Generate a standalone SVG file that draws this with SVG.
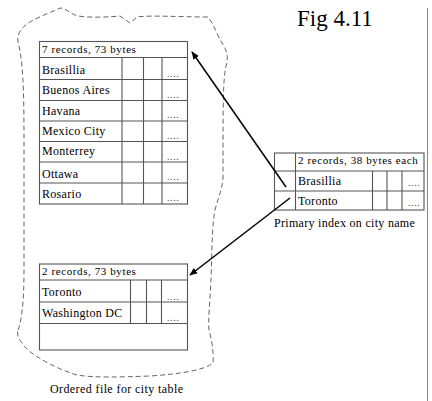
<svg xmlns="http://www.w3.org/2000/svg" width="432" height="401" viewBox="0 0 432 401" font-family="'Liberation Serif', 'Times New Roman', serif">
<style>
.tb{fill:none;stroke:#555;stroke-width:1.1}
.ln{stroke:#555;stroke-width:1.1}
.t{font-size:12px;letter-spacing:0.3px;fill:#000}
.h{font-size:11px;letter-spacing:0.6px;fill:#000}
.d{font-size:10px;letter-spacing:0.6px;fill:#444}
.cap{font-size:12px;letter-spacing:0.4px;fill:#000}
.blob{fill:none;stroke:#666;stroke-width:1;stroke-dasharray:5,3}
.arr{fill:none;stroke:#000;stroke-width:1.5}
</style>
<defs>
<marker id="ah" viewBox="0 0 10 10" refX="9" refY="5" markerWidth="8" markerHeight="8" markerUnits="userSpaceOnUse" orient="auto">
<path d="M0,1 L10,5 L0,9 Z" fill="#000"/>
</marker>
</defs>
<rect width="432" height="401" fill="#fff"/>
<text x="297" y="26" font-size="23" fill="#000">Fig 4.11</text>
<line x1="427.5" y1="8" x2="427.5" y2="401" stroke="#888" stroke-width="1"/>

<g id="file-outline">
<path class="blob" d="M18,330 C22,320 24,300 24,270 L24,140 C24,90 23,60 18,42 C17,35 20,28 30,22 C40,16 52,12 60,8 C66,8 70,14 78,16 C90,18 110,17 120,16 L130,23 L137,17 C150,15 180,17 208,17 C214,24 218,38 224,46 C228,54 228,60 226,66 C223,80 223,100 223,178 C222,190 218,198 215,210 C212,225 212,250 211,280 C210,300 208,320 209,330 C212,340 214,355 213,363 C205,370 180,374 150,376 C120,377 95,378 77,375 C60,370 40,360 28,350 C20,342 16,335 18,330 Z"/>
<text class="cap" x="50" y="393">Ordered file for city table</text>
</g>

<g id="block1">
<rect class="tb" x="39.5" y="41.5" width="148" height="162.5"/>
<line class="ln" x1="39.5" y1="57.5" x2="187.5" y2="57.5"/>
<line class="ln" x1="39.5" y1="79.5" x2="187.5" y2="79.5"/>
<line class="ln" x1="39.5" y1="100.5" x2="187.5" y2="100.5"/>
<line class="ln" x1="39.5" y1="121" x2="187.5" y2="121"/>
<line class="ln" x1="39.5" y1="141.5" x2="187.5" y2="141.5"/>
<line class="ln" x1="39.5" y1="162" x2="187.5" y2="162"/>
<line class="ln" x1="39.5" y1="183" x2="187.5" y2="183"/>
<line class="ln" x1="122" y1="57.5" x2="122" y2="204"/>
<line class="ln" x1="143.5" y1="57.5" x2="143.5" y2="204"/>
<line class="ln" x1="162" y1="57.5" x2="162" y2="204"/>
<text class="h" x="42" y="53">7 records, 73 bytes</text>
<text class="t" x="42" y="74">Brasillia</text>
<text class="t" x="42" y="94">Buenos Aires</text>
<text class="t" x="42" y="115">Havana</text>
<text class="t" x="42" y="135">Mexico City</text>
<text class="t" x="42" y="155">Monterrey</text>
<text class="t" x="42" y="178">Ottawa</text>
<text class="t" x="42" y="198">Rosario</text>
<text class="d" x="167" y="77">....</text>
<text class="d" x="167" y="98">....</text>
<text class="d" x="167" y="118">....</text>
<text class="d" x="167" y="139">....</text>
<text class="d" x="167" y="160">....</text>
<text class="d" x="167" y="180">....</text>
<text class="d" x="167" y="201">....</text>
</g>

<g id="block2">
<rect class="tb" x="39.5" y="264" width="148" height="86"/>
<line class="ln" x1="39.5" y1="280" x2="187.5" y2="280"/>
<line class="ln" x1="39.5" y1="302" x2="187.5" y2="302"/>
<line class="ln" x1="39.5" y1="323.5" x2="187.5" y2="323.5"/>
<line class="ln" x1="130.5" y1="280" x2="130.5" y2="323.5"/>
<line class="ln" x1="146.5" y1="280" x2="146.5" y2="323.5"/>
<line class="ln" x1="161.5" y1="280" x2="161.5" y2="323.5"/>
<text class="h" x="42" y="275">2 records, 73 bytes</text>
<text class="t" x="42" y="296">Toronto</text>
<text class="t" x="42" y="317">Washington DC</text>
<text class="d" x="167" y="300">....</text>
<text class="d" x="167" y="321">....</text>
</g>

<g id="index">
<rect class="tb" x="274.5" y="153" width="149.5" height="57"/>
<line class="ln" x1="274.5" y1="171" x2="424" y2="171"/>
<line class="ln" x1="274.5" y1="191" x2="424" y2="191"/>
<line class="ln" x1="295.5" y1="153" x2="295.5" y2="210"/>
<line class="ln" x1="372.5" y1="171" x2="372.5" y2="210"/>
<line class="ln" x1="387" y1="171" x2="387" y2="210"/>
<line class="ln" x1="402" y1="171" x2="402" y2="210"/>
<text class="h" x="298" y="164">2 records, 38 bytes each</text>
<text class="t" x="298" y="185">Brasillia</text>
<text class="t" x="298" y="205">Toronto</text>
<text class="d" x="408" y="186">....</text>
<text class="d" x="408" y="206">....</text>
<text class="cap" x="274" y="227" style="letter-spacing:0.3px">Primary index on city name</text>
</g>

<g id="connectors">
<line class="arr" x1="286" y1="187" x2="192" y2="52" marker-end="url(#ah)"/>
<line class="arr" x1="290" y1="198" x2="190" y2="275" marker-end="url(#ah)"/>
</g>
</svg>
